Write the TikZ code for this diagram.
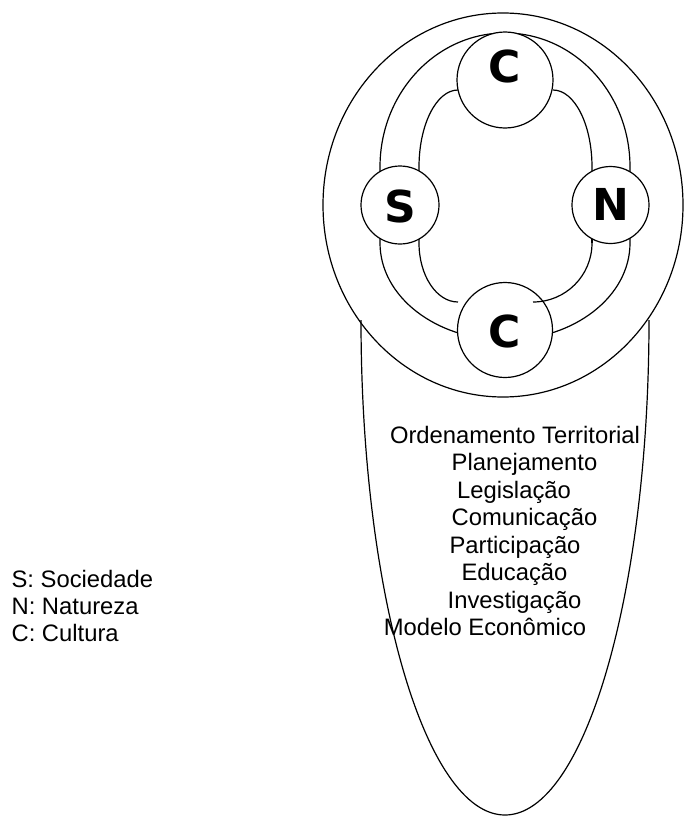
\documentclass[tikz,border=0pt]{standalone}
\usepackage{fontspec}
\setmainfont{Liberation Sans}
\newfontfamily\letterfont{DejaVu Sans}
\begin{document}
\begin{tikzpicture}[x=1pt,y=-1pt,line width=1.2pt,
  ball/.style={circle,draw,fill=white,inner sep=0pt},
  letter/.style={inner sep=0pt,font=\letterfont\bfseries\fontsize{44}{44}\selectfont},
  txt/.style={inner sep=0pt,anchor=base,font=\fontsize{23.8}{27.4}\selectfont},
  legend/.style={inner sep=0pt,anchor=base west,font=\fontsize{23.8}{27.4}\selectfont}]
\useasboundingbox (0,0) rectangle (684,816);
% big circle
\draw (503,205) ellipse [x radius=180pt, y radius=192pt];
% tail
\coordinate (tl) at (361,320);
\coordinate (tr) at (649,320);
\coordinate (tip) at (505,815);
\draw (tl) .. controls (361,593.4) and (425.5,815) .. (tip)
      .. controls (584.5,815) and (649,593.4) .. (tr);
% outer ring
\draw (380,243) -- (380,167) .. controls (380,93) and (436,33) .. (505,33)
      .. controls (574,33) and (630,93) .. (630,167) -- (630,243)
      .. controls (630,296.6) and (574,340) .. (505,340)
      .. controls (436,340) and (380,296.6) .. cycle;
% inner ring pieces
\draw (419,205) -- (419,167) .. controls (419,124.5) and (436.5,90) .. (458,90);
\draw (553,90) .. controls (574.5,90) and (592,124.5) .. (592,167) -- (592,205);
\draw (419,205) -- (419,243) .. controls (419,275.6) and (436.5,302) .. (458,302);
\draw (592,205) -- (592,243);
% circles
\node[ball,minimum size=96pt] (ct) at (505,80) {};
\node[ball,minimum size=95pt] (cb) at (505,330) {};
\node[ball,minimum size=78pt] (s) at (400,205) {};
\node[ball,minimum size=77pt] (n) at (610.5,205) {};
% inner piece drawn over lower circle
\draw (592,240) -- (592,243) .. controls (592,275.6) and (565.6,302) .. (533,302);
% letters
\node[letter] (lct) at (505,66) {C};
\node[letter] (lcb) at (505,331) {C};
\node[letter] (ls) at (400,206) {S};
\node[letter] (ln) at (610.5,204.5) {N};
% texts
\node[txt] (t1) at (515,443.3) {Ordenamento Territorial};
\node[txt] (t2) at (524.5,470.8) {Planejamento};
\node[txt] (t3) at (514,498.3) {Legislação};
\node[txt] (t4) at (524.5,525.8) {Comunicação};
\node[txt] (t5) at (515,553.3) {Participação};
\node[txt] (t6) at (514.5,580.8) {Educação};
\node[txt] (t7) at (514.5,608.3) {Investigação};
\node[txt] (t8) at (485,635.8) {Modelo Econômico};
% legend
\node[legend] (g1) at (11,587) {S: Sociedade};
\node[legend] (g2) at (11,614) {N: Natureza};
\node[legend] (g3) at (11,641) {C: Cultura};
\end{tikzpicture}
\end{document}
